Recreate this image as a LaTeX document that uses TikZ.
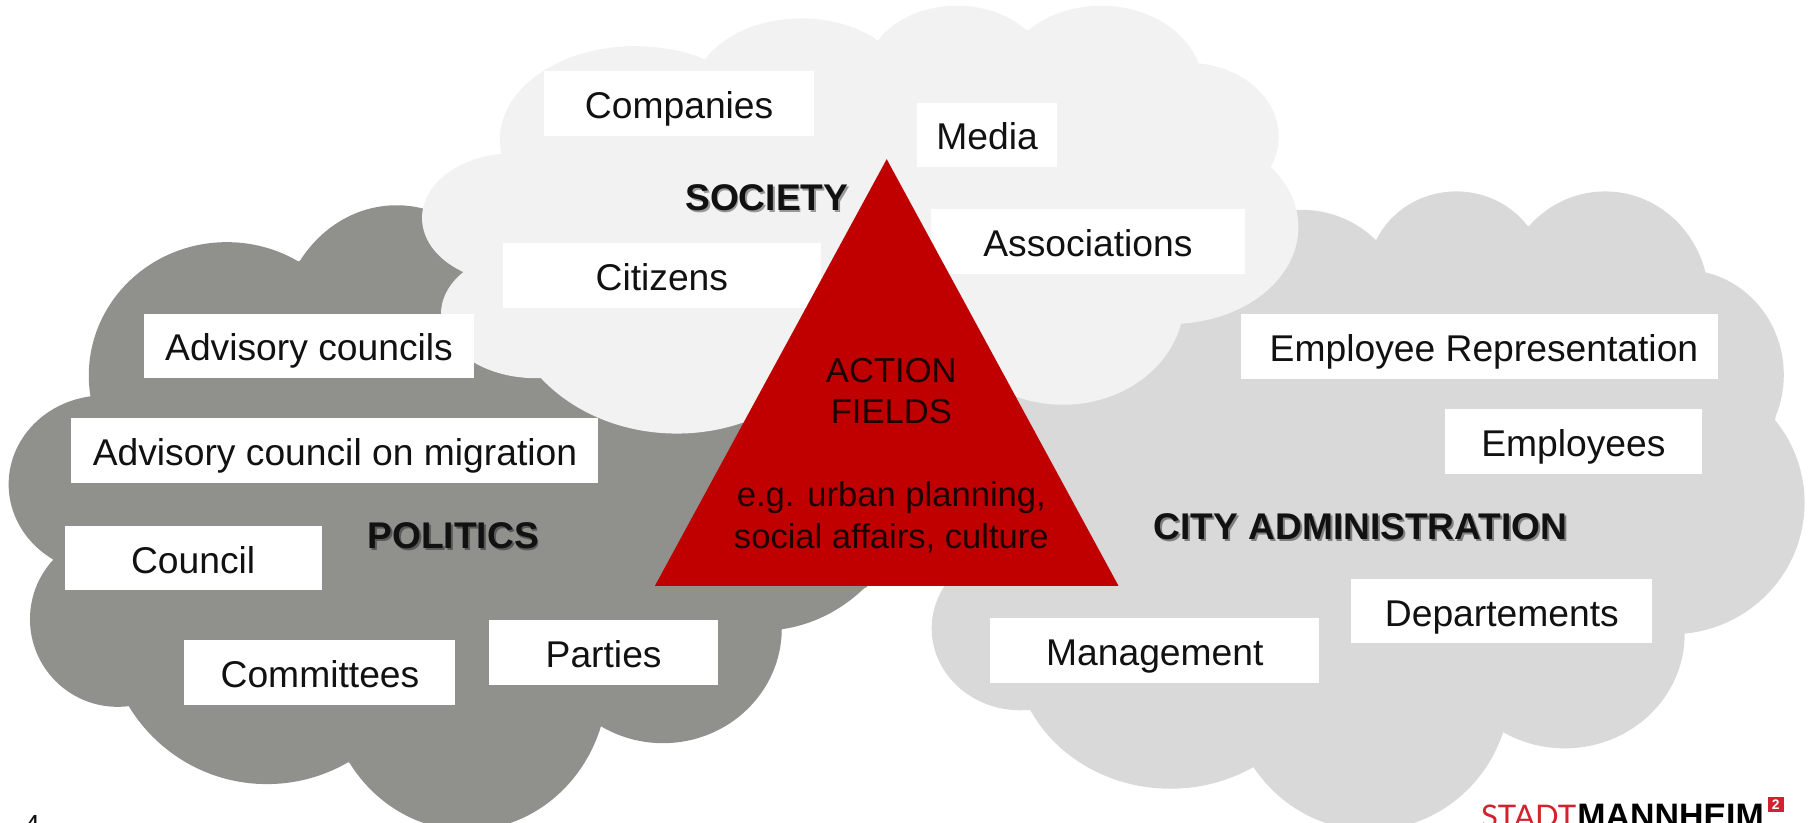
\documentclass[tikz,border=0pt]{standalone}
\usepackage{fontspec}
\setmainfont{Liberation Sans}
\newfontfamily\logofont{Lato}
\definecolor{politicsgray}{HTML}{90918C}
\definecolor{societygray}{HTML}{F2F2F3}
\definecolor{admingray}{HTML}{D9D9D9}
\definecolor{fieldred}{HTML}{C00000}
\definecolor{inktext}{HTML}{111111}
\definecolor{logored}{HTML}{D2222D}
\newcommand{\shadowlabel}[2]{\rlap{\kern0.8pt\raisebox{-0.8pt}{\textcolor{black!#1}{#2}}}#2}
\tikzset{
	fieldbox/.style={fill=white, text=inktext, inner sep=0pt, text height=20.5pt, text depth=7.5pt, font=\fontsize{16.15}{20}\selectfont},
	grouplabel/.style={text=inktext, inner sep=0pt, font=\fontsize{16.1}{20}\selectfont\bfseries},
}

\begin{document}
\begin{tikzpicture}[x=0.5pt, y=-0.5pt]
	\useasboundingbox (0,0) rectangle (1568,713);
	\clip (0,0) rectangle (1568,713);
	\fill [white] (0,0) rectangle (1568,713);
	% politics cloud
	\fill [politicsgray] (344,290) ellipse (102 and 112) (196.7,325.6) ellipse (119.7 and 115.6)
		(90,420) ellipse (82.5 and 77) (102,537) ellipse (76 and 76)
		(231.5,540) ellipse (140 and 140) (405,590) ellipse (122 and 130)
		(575,545) ellipse (103 and 99.5) (660,400) ellipse (135 and 147)
		(400,200) -- (700,300) -- (752,509) -- (678,545.6) -- (520,630.6) -- (304.7,661.8)
		-- (112,613) -- (45.8,485.7) -- (78,345) -- (260,226) -- cycle;
	% administration cloud
	\fill [admingray] (1129,270) ellipse (90 and 88) (1263,240) ellipse (77 and 74)
		(1392,260) ellipse (90 and 94) (1460,325) ellipse (87 and 91)
		(1450,436) ellipse (115 and 114) (1357,550) ellipse (104 and 99)
		(1188,595) ellipse (122 and 125) (1015,560) ellipse (136 and 124)
		(885,545) ellipse (77 and 71)
		(1193,208) -- (1325,196) -- (1477,236) -- (1540,362) -- (1460.5,548) -- (1302,634)
		-- (1086,665.7) -- (894,616) -- (850,500) -- (850,320) -- (1000,250) -- (1129,200) -- cycle;
	% society cloud
	\fill [societygray] (445,189) ellipse (79 and 56) (551,121) ellipse (117.5 and 81)
		(695,80) ellipse (93 and 64) (830,65) ellipse (79 and 60)
		(955,75) ellipse (88 and 70) (1030,118.5) ellipse (79 and 64)
		(1015,197) ellipse (111 and 84) (922,260) ellipse (105 and 91)
		(587,250) ellipse (150 and 126) (465,272) ellipse (82.5 and 56)
		(403,237) -- (434.5,136) -- (612,51) -- (760,35) -- (890.4,26) -- (1039,55)
		-- (1101,145) -- (1024,280) -- (922,340) -- (647,367) -- (470,328) -- cycle;
	% boxes
	\node [fieldbox, minimum width=117pt] (companies) at (589,90) {Companies};
	\node [fieldbox, minimum width=61pt] (media) at (856,117) {Media};
	\node [fieldbox, minimum width=136.5pt] (associations) at (943.5,209.5) {Associations};
	\node [fieldbox, minimum width=138pt] (citizens) at (574,239) {Citizens};
	\node [fieldbox, minimum width=143pt] (advisorycouncils) at (268,300) {Advisory councils};
	\node [fieldbox, minimum width=228.5pt] (migration) at (290.5,390.5) {Advisory council on migration};
	\node [fieldbox, minimum width=111.5pt] (council) at (167.5,484) {Council};
	\node [fieldbox, minimum width=117.5pt] (committees) at (277.5,583) {Committees};
	\node [fieldbox, minimum width=99.5pt] (parties) at (523.5,566) {Parties};
	\node [fieldbox, minimum width=207pt] (representation) at (1283,300.5) {\kern4pt Employee Representation};
	\node [fieldbox, minimum width=111.5pt] (employees) at (1364.5,383) {Employees};
	\node [fieldbox, minimum width=130.5pt] (departements) at (1302.5,530) {Departements};
	\node [fieldbox, minimum width=142.5pt] (management) at (1001.5,564) {Management};
	% triangle
	\coordinate (T) at (769,138);
	\coordinate (L) at (568,508);
	\coordinate (R) at (970,508);
	\fill [fieldred] (T) -- (L) -- (R) -- cycle;
	\node [text=black!85!fieldred, align=center, inner sep=0pt, font=\fontsize{15}{18}\selectfont] (fields) at (773,395)
		{ACTION\\FIELDS\\[18pt]e.g. urban planning,\\social affairs, culture};
	% group labels
	\node [grouplabel] (society) at (665,172) {\shadowlabel{40}{SOCIETY}};
	\node [grouplabel] (politics) at (393,465.5) {\shadowlabel{65}{POLITICS}};
	\node [grouplabel] (admin) at (1180,457.5) {\shadowlabel{50}{CITY ADMINISTRATION}};
	% footer
	\node [anchor=base west, inner sep=0pt, text=inktext, font=\fontsize{12}{14}\selectfont] (pagenum) at (21,724) {4};
	\node [anchor=base west, inner sep=0pt, font=\fontsize{14.7}{17}\selectfont] (logo) at (1284,718)
		{\textcolor{logored}{\logofont\fontsize{13.5}{16}\selectfont STADT}\hspace{0.5pt}\textbf{MANNHEIM}};
	\node [anchor=north west, fill=logored, text=white, inner sep=0pt, minimum width=7pt, minimum height=6.5pt, font=\fontsize{6}{6}\selectfont\bfseries] (logotwo) at (1532.5,691) {2};
\end{tikzpicture}
\end{document}
